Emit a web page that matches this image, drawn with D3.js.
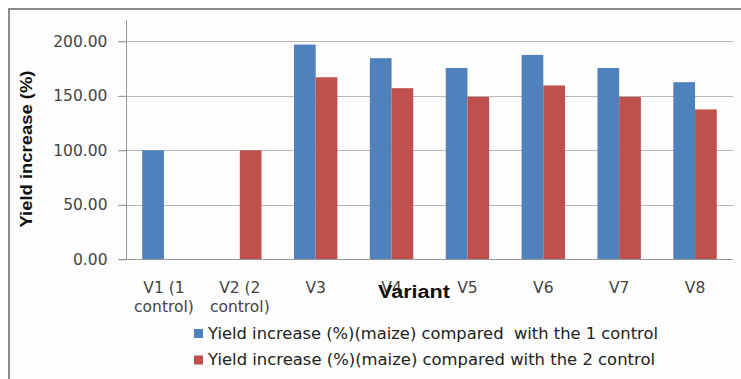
<!DOCTYPE html>
<html>
<head>
<meta charset="utf-8">
<script src="https://cdn.jsdelivr.net/npm/d3@7"></script>
<style>
  body { margin: 0; background: #fff; }
  text { font-family: "DejaVu Sans", Verdana, sans-serif; }
</style>
</head>
<body>
<div id="chart"></div>
<script>
// Data
var categories = ["V1 (1|control)", "V2 (2|control)", "V3", "V4", "V5", "V6", "V7", "V8"];
var control1 = [100, null, 197, 184.5, 175.5, 187.5, 175.5, 162.5];
var control2 = [null, 100, 167, 157, 149, 159.5, 149, 137.5];
var seriesNames = [
  "Yield increase (%)(maize) compared  with the 1 control",
  "Yield increase (%)(maize) compared with the 2 control"
];
var legendWidths = [450, 447];
var colors = ["#4F81BD", "#C0504D"];
var yTicks = [0, 50, 100, 150, 200];

var W = 741, H = 379;
var plot = {left: 126, right: 733, top: 20, bottom: 259};

var svg = d3.select("#chart").append("svg")
    .attr("width", W)
    .attr("height", H);

// chart area with border on left/top
svg.append("rect")
    .attr("x", 9).attr("y", 9)
    .attr("width", W).attr("height", H)
    .attr("fill", "#fdfdfd")
    .attr("stroke", "#8a8a8a")
    .attr("stroke-width", 2);

var x = d3.scaleBand()
    .domain(categories)
    .range([plot.left, plot.right])
    .paddingInner(0.428)
    .paddingOuter(0.214);

var y = d3.scaleLinear()
    .domain([0, 200])
    .range([259.3, 41.3]);

// gridlines
svg.append("g")
  .selectAll("line")
  .data(yTicks.filter(d => d > 0))
  .join("line")
    .attr("x1", plot.left - 8)
    .attr("x2", plot.right)
    .attr("y1", d => Math.round(y(d)) + 0.5)
    .attr("y2", d => Math.round(y(d)) + 0.5)
    .attr("stroke", "#b8b8b8")
    .attr("stroke-width", 1);

// bars
var series = [control1, control2];
var xs = d3.scaleBand().domain([0, 1]).range([0, x.bandwidth()]);
series.forEach(function(vals, si) {
  svg.append("g")
    .selectAll("rect")
    .data(vals.map((v, i) => ({cat: categories[i], v: v})).filter(d => d.v != null))
    .join("rect")
      .attr("x", d => x(d.cat) + xs(si))
      .attr("y", d => y(d.v))
      .attr("width", xs.bandwidth())
      .attr("height", d => y(0) - y(d.v))
      .attr("fill", colors[si]);
});

// y axis
var yAxis = svg.append("g")
    .attr("transform", "translate(" + (plot.left + 0.5) + ",0)")
    .call(d3.axisLeft(y).tickValues(yTicks).tickFormat(d3.format(".2f")).tickSize(8).tickPadding(11));
yAxis.select(".domain").attr("d", "M0," + plot.top + "V" + y(0)).attr("stroke", "#999");
yAxis.selectAll(".tick line").attr("stroke", "#999");
yAxis.selectAll("text")
    .attr("fill", "#444")
    .style("font-family", "'DejaVu Sans', sans-serif")
    .style("font-size", "15.5px");

// x axis baseline
svg.append("line")
    .attr("x1", plot.left - 8).attr("x2", plot.right)
    .attr("y1", Math.round(y(0)) + 0.5).attr("y2", Math.round(y(0)) + 0.5)
    .attr("stroke", "#999");

// x labels (two lines)
var xl = svg.append("g")
  .selectAll("text")
  .data(categories)
  .join("text")
    .attr("x", d => x(d) + x.bandwidth() / 2)
    .attr("y", 293)
    .attr("text-anchor", "middle")
    .attr("fill", "#444")
    .style("font-size", "15.5px");
xl.each(function(d) {
  var parts = d.split("|");
  var t = d3.select(this);
  parts.forEach(function(p, i) {
    t.append("tspan")
      .attr("x", x(d) + x.bandwidth() / 2)
      .attr("dy", i === 0 ? 0 : 19)
      .text(p);
  });
});

// axis titles
svg.append("text")
    .attr("transform", "translate(32,149) rotate(-90)")
    .attr("text-anchor", "middle")
    .attr("textLength", 157)
    .attr("lengthAdjust", "spacingAndGlyphs")
    .style("font-family", "'Liberation Sans', Arial, sans-serif")
    .style("font-size", "17px")
    .style("font-weight", "bold")
    .attr("fill", "#111")
    .text("Yield increase (%)");

svg.append("text")
    .attr("x", 414).attr("y", 298)
    .attr("text-anchor", "middle")
    .attr("textLength", 72)
    .attr("lengthAdjust", "spacingAndGlyphs")
    .style("font-family", "'Liberation Sans', Arial, sans-serif")
    .style("font-size", "18px")
    .style("font-weight", "bold")
    .attr("fill", "#111")
    .text("Variant");

// legend
var leg = svg.append("g");
seriesNames.forEach(function(name, i) {
  var ly = 329 + i * 26.5;
  leg.append("rect")
    .attr("x", 194).attr("y", ly)
    .attr("width", 9).attr("height", 9)
    .attr("fill", colors[i]);
  leg.append("text")
    .attr("x", 208).attr("y", ly + 9.5)
    .attr("fill", "#222")
    .attr("textLength", legendWidths[i])
    .attr("lengthAdjust", "spacingAndGlyphs")
    .style("font-size", "15.5px")
    .attr("xml:space", "preserve")
    .text(name);
});
</script>
</body>
</html>
